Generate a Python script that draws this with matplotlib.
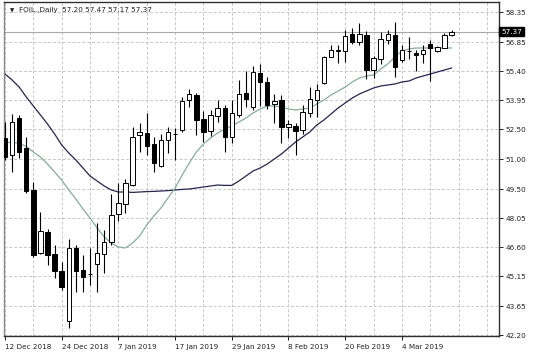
import matplotlib.pyplot as plt
import numpy as np

# Data (daily OHLC, 12 Dec 2018 - 13 Mar 2019)
opens = [52.03, 51.20, 53.03, 51.53, 49.45, 46.28, 47.33, 46.23, 45.40, 42.90,
         46.57, 45.45, 45.27, 45.73, 46.23, 46.87, 48.25, 48.75, 49.70, 52.20,
         52.28, 51.75, 50.65, 51.95, 52.27, 52.45, 53.95, 54.20, 52.98, 52.42,
         53.15, 53.53, 52.08, 53.20, 54.28, 53.58, 55.28, 54.83, 53.75, 53.95,
         52.58, 52.67, 52.45, 53.32, 53.95, 54.82, 56.12, 56.42, 56.40, 57.23,
         56.83, 57.20, 55.45, 56.00, 56.95, 57.20, 55.95, 56.42, 56.28, 56.23,
         56.73, 56.40, 56.57, 57.20]
highs = [52.87, 53.23, 53.20, 52.12, 49.87, 48.37, 47.50, 46.70, 45.87, 47.00,
         46.70, 46.20, 46.53, 47.78, 47.45, 49.23, 49.78, 49.98, 52.62, 52.78,
         53.28, 52.12, 52.25, 52.62, 52.53, 54.08, 54.48, 54.32, 53.42, 53.45,
         53.95, 53.70, 53.95, 54.95, 55.42, 55.65, 55.75, 55.08, 54.25, 54.20,
         52.95, 52.82, 53.70, 54.58, 54.75, 56.15, 56.70, 56.70, 57.45, 57.57,
         57.78, 57.40, 56.17, 57.37, 57.45, 57.87, 56.70, 57.12, 56.45, 56.70,
         56.95, 56.67, 57.28, 57.47]
lows = [50.95, 50.37, 51.03, 49.28, 46.12, 46.25, 45.70, 45.07, 44.45, 42.53,
        44.37, 44.37, 44.70, 44.37, 45.28, 46.70, 47.90, 48.28, 49.65, 51.37,
        51.20, 50.37, 50.62, 51.28, 50.95, 52.37, 53.58, 52.20, 51.87, 52.15,
        52.87, 51.37, 51.82, 53.08, 53.58, 53.45, 53.65, 53.48, 52.82, 51.78,
        52.03, 51.20, 52.25, 53.08, 53.08, 54.75, 56.08, 55.82, 55.87, 56.73,
        56.70, 55.00, 55.03, 55.73, 56.73, 55.10, 55.85, 56.00, 55.40, 55.78,
        54.90, 56.37, 56.53, 57.17]
closes = [51.12, 52.87, 51.37, 49.40, 46.20, 47.40, 46.20, 45.42, 44.62, 46.53,
          45.40, 45.12, 45.25, 46.28, 46.83, 48.20, 48.78, 49.78, 52.12, 52.33,
          51.65, 50.78, 51.95, 52.37, 52.25, 53.92, 54.23, 52.95, 52.37, 53.20,
          53.53, 52.08, 53.28, 54.25, 54.00, 55.37, 54.83, 53.70, 53.92, 52.58,
          52.73, 52.42, 53.37, 53.98, 54.45, 56.12, 56.45, 56.44, 57.15, 56.87,
          57.23, 55.45, 56.03, 57.00, 57.23, 55.60, 56.45, 56.38, 56.20, 56.45,
          56.53, 56.58, 57.20, 57.37]

# moving averages
ma_fast = [51.80, 51.85, 51.78, 51.63, 51.35, 51.10, 50.75, 50.35, 49.95, 49.45,
           49.00, 48.50, 48.05, 47.55, 47.10, 46.80, 46.60, 46.55, 46.80, 47.15,
           47.70, 48.15, 48.55, 49.05, 49.55, 50.20, 50.80, 51.35, 51.75, 52.05,
           52.30, 52.50, 52.65, 52.85, 53.05, 53.30, 53.50, 53.65, 53.65, 53.60,
           53.50, 53.45, 53.50, 53.55, 53.75, 53.95, 54.20, 54.40, 54.60, 54.85,
           55.05, 55.15, 55.20, 55.50, 55.75, 56.10, 56.40, 56.50, 56.55, 56.55,
           56.55, 56.55, 56.55, 56.55]
ma_slow = [55.25, 54.95, 54.60, 54.10, 53.65, 53.20, 52.75, 52.25, 51.70, 51.30,
           50.95, 50.55, 50.15, 49.90, 49.65, 49.45, 49.35, 49.35, 49.33, 49.35,
           49.37, 49.38, 49.40, 49.42, 49.45, 49.48, 49.50, 49.55, 49.60, 49.65,
           49.70, 49.68, 49.68, 49.90, 50.15, 50.40, 50.55, 50.75, 51.00, 51.25,
           51.55, 51.85, 52.10, 52.35, 52.70, 52.95, 53.25, 53.55, 53.80, 54.05,
           54.25, 54.40, 54.55, 54.65, 54.70, 54.75, 54.85, 54.90, 55.05, 55.15,
           55.25, 55.35, 55.45, 55.55]

date_labels = ["12 Dec 2018", "24 Dec 2018", "7 Jan 2019", "17 Jan 2019",
               "29 Jan 2019", "8 Feb 2019", "20 Feb 2019", "4 Mar 2019"]
price_ticks = [42.20, 43.65, 45.15, 46.60, 48.05, 49.50, 51.00, 52.50,
               53.95, 55.40, 56.85, 58.35]
last_price = 57.37

plt.rcParams['font.family'] = 'DejaVu Sans'
fig = plt.figure(figsize=(5.36, 3.58), dpi=100)
ax = fig.add_axes([4 / 536, 22 / 358, 495 / 536, 334 / 358])

x = np.arange(len(opens))
o = np.array(opens)
c = np.array(closes)

# grid
for p in price_ticks:
    ax.axhline(p, color='#c8c8c8', lw=0.7, ls=(0, (3, 2)), zorder=0)
for g in range(0, 72, 4):
    ax.axvline(g, color='#c8c8c8', lw=0.7, ls=(0, (3, 2)), zorder=0)

# last price line
ax.axhline(last_price, color='#a8a8a8', lw=0.8, zorder=1)

# moving averages
ax.plot(x, ma_slow, color='#25254f', lw=0.9, zorder=2)
ax.plot(x, ma_fast, color='#86ad98', lw=0.9, zorder=2)

# candles
ax.vlines(x, lows, highs, color='black', lw=0.8, zorder=3)
up = c >= o
bottoms = np.minimum(o, c)
heights = np.maximum(np.abs(c - o), 0.02)
ax.bar(x[up], heights[up], bottom=bottoms[up], width=0.62,
       color='white', edgecolor='black', lw=0.7, zorder=4)
ax.bar(x[~up], heights[~up], bottom=bottoms[~up], width=0.62,
       color='black', edgecolor='black', lw=0.7, zorder=4)

ax.set_xlim(-0.14, 69.7)
ax.set_ylim(42.15, 58.85)

ax.yaxis.tick_right()
ax.set_yticks(price_ticks)
ax.set_yticklabels([f"{p:.2f}" for p in price_ticks])
ax.set_xticks(np.arange(0, 64, 8))
ax.set_xticklabels(date_labels, ha='left')
ax.tick_params(axis='both', labelsize=5.2, colors='#222222', length=3,
               width=0.7, pad=2)
ax.tick_params(axis='x', pad=3)
for s in ax.spines.values():
    s.set_color('#303030')
    s.set_linewidth(1.0)
ax.spines['left'].set_color('#8a8a8a')

# price label box
ax.text(1.004, last_price, f"{last_price:.2f}", transform=ax.get_yaxis_transform(),
        fontsize=5.2, color='white', va='center', ha='left',
        bbox=dict(boxstyle='square,pad=0.25', fc='black', ec='black'))

# header
ax.text(0.012, 0.975, "\u25bc", transform=ax.transAxes, fontsize=4,
        va='center', ha='left', color='#222222')
ax.text(0.03, 0.975, "FOIL.,Daily  57.20 57.47 57.17 57.37",
        transform=ax.transAxes, fontsize=5.2, va='center', ha='left',
        color='#222222')

fig.savefig("out.png", dpi=100)
